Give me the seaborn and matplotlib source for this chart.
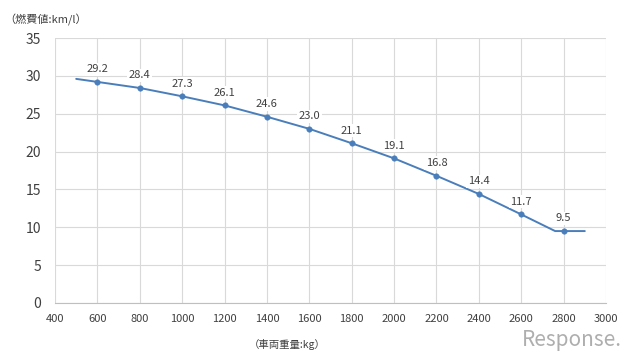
import matplotlib
matplotlib.use("Agg")
import matplotlib.pyplot as plt
import pandas as pd
import seaborn as sns

# marker points (vehicle weight kg -> fuel economy km/l)
weights = [600, 800, 1000, 1200, 1400, 1600, 1800, 2000, 2200, 2400, 2600, 2800]
economy = [29.2, 28.4, 27.3, 26.1, 24.6, 23.0, 21.1, 19.1, 16.8, 14.4, 11.7, 9.5]

# the drawn curve extends beyond the markers
line_x = [500] + weights[:-1] + [2760, 2800, 2900]
line_y = [29.6] + economy[:-1] + [9.5, 9.5, 9.5]

x_ticks = list(range(400, 3001, 200))
y_ticks = list(range(0, 36, 5))

pts = pd.DataFrame({"w": weights, "e": economy})
curve = pd.DataFrame({"w": line_x, "e": line_y})

sns.set_style("white")
plt.rcParams["font.family"] = ["Noto Sans CJK JP", "DejaVu Sans"]

blue = "#4a7ebb"
fig = plt.figure(figsize=(6.4, 3.55), dpi=100)
ax = fig.add_axes([55 / 640, 52 / 355, 551 / 640, 265 / 355])

sns.lineplot(data=curve, x="w", y="e", color=blue, linewidth=1.4, ax=ax, sort=False)
sns.scatterplot(data=pts, x="w", y="e", color=blue, s=16, edgecolor=blue, zorder=3, ax=ax)

for w, e in zip(weights, economy):
    ax.annotate(f"{e:.1f}", (w, e), xytext=(0, 5.5), textcoords="offset points",
                ha="center", va="bottom", fontsize=8, color="#404040",
                bbox=dict(boxstyle="square,pad=0.15", fc="white", ec="none"))

ax.set_xlim(400, 3000)
ax.set_ylim(0, 35)
ax.set_xticks(x_ticks)
ax.set_yticks(y_ticks)
ax.grid(True, color="#d9d9d9", linewidth=0.8)
ax.set_axisbelow(True)
for s in ["top", "right", "left"]:
    ax.spines[s].set_visible(False)
ax.spines["bottom"].set_color("#bfbfbf")
ax.tick_params(axis="x", labelsize=8, colors="#404040", length=0, pad=8)
ax.tick_params(axis="y", labelsize=10, colors="#404040", length=0, pad=10)
ax.set_xlabel("")
ax.set_ylabel("")

fig.text(4 / 640, 1 - 20 / 355, "（燃費値:km/l）", fontsize=8, color="#404040", va="center", ha="left")
fig.text(287 / 640, 1 - 345 / 355, "（車両重量:kg）", fontsize=7.5, color="#404040", va="center", ha="center")
fig.text(622 / 640, 1 - 340 / 355, "Response.", fontsize=15, color="#9a9a9a", va="center", ha="right",
         alpha=0.8)

fig.savefig("out.png", dpi=100)
